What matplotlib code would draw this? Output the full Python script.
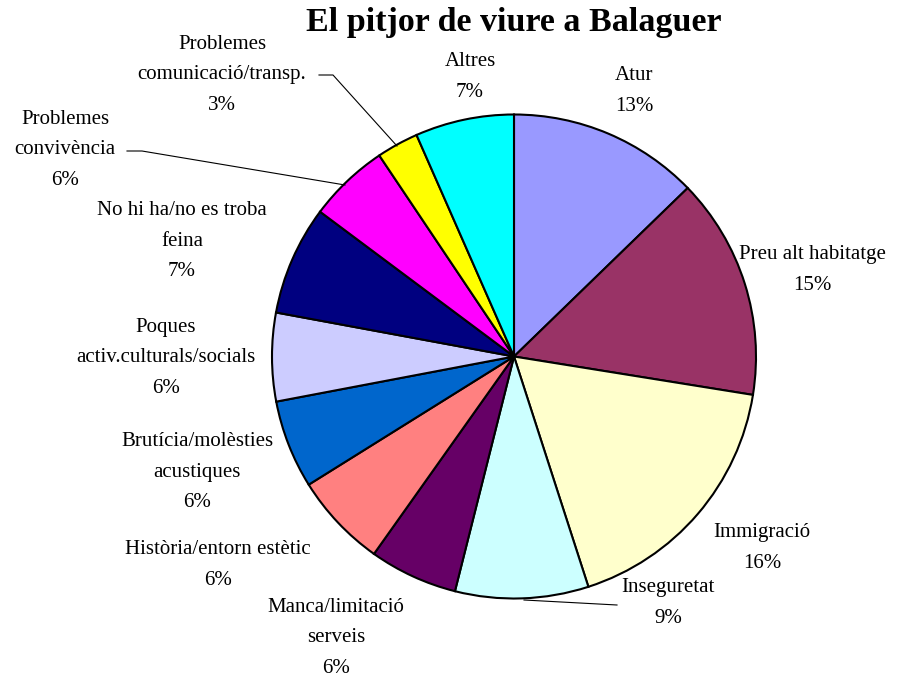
import matplotlib
matplotlib.use('Agg')
import matplotlib.pyplot as plt

plt.rcParams['font.family'] = ['Liberation Serif', 'DejaVu Serif']

# categories, clockwise from the top
categories = ['Atur', 'Preu alt habitatge', 'Immigració', 'Inseguretat',
              'Manca/limitació\nserveis', 'Història/entorn estètic',
              'Brutícia/molèsties\nacustiques', 'Poques\nactiv.culturals/socials',
              'No hi ha/no es troba\nfeina', 'Problemes\nconvivència',
              'Problemes\ncomunicació/transp.', 'Altres']
# slice sizes as drawn
shares = [12.75, 14.8, 17.5, 8.9, 5.9, 6.3, 5.9, 5.9, 7.3, 5.4, 2.8, 6.6]
# percentages printed on the chart
pct_labels = ['13%', '15%', '16%', '9%', '6%', '6%', '6%', '6%', '7%', '6%', '3%', '7%']
colors = ['#9999FF', '#993366', '#FFFFCC', '#CCFFFF', '#660066', '#FF8080',
          '#0066CC', '#CCCCFF', '#000080', '#FF00FF', '#FFFF00', '#00FFFF']

W, H = 911, 680
# label centres, pixel coords from top-left
label_pos = [(634, 91), (812, 270), (762, 548), (668, 603), (336, 638), (218, 565),
             (197, 472), (166, 358), (182, 241), (65, 150), (222, 75), (470, 77)]
# leader lines (pixel coords)
leaders = [[(319, 75), (333, 75), (397, 146)],
           [(127, 151), (142, 151), (345, 185)],
           [(524, 600), (617, 605)]]

fig = plt.figure(figsize=(W / 100, H / 100), dpi=100)
ax = fig.add_axes([0, 0, 1, 1])

ax.pie(shares, colors=colors, startangle=90, counterclock=False,
       center=(514, H - 356.5), radius=242,
       wedgeprops=dict(edgecolor='black', linewidth=1.5))

for cat, pct, (x, y) in zip(categories, pct_labels, label_pos):
    ax.text(x, H - y, cat + '\n' + pct, ha='center', va='center',
            multialignment='center', fontsize=15, linespacing=1.83)

for pts in leaders:
    xs = [p[0] for p in pts]
    ys = [H - p[1] for p in pts]
    ax.plot(xs, ys, color='black', linewidth=0.8)

ax.text(514, H - 22, 'El pitjor de viure a Balaguer', ha='center', va='center',
        fontsize=24.5, fontweight='bold')

ax.set_xlim(0, W)
ax.set_ylim(0, H)
ax.set_aspect('equal')
ax.axis('off')

fig.savefig('out.png', dpi=100)
